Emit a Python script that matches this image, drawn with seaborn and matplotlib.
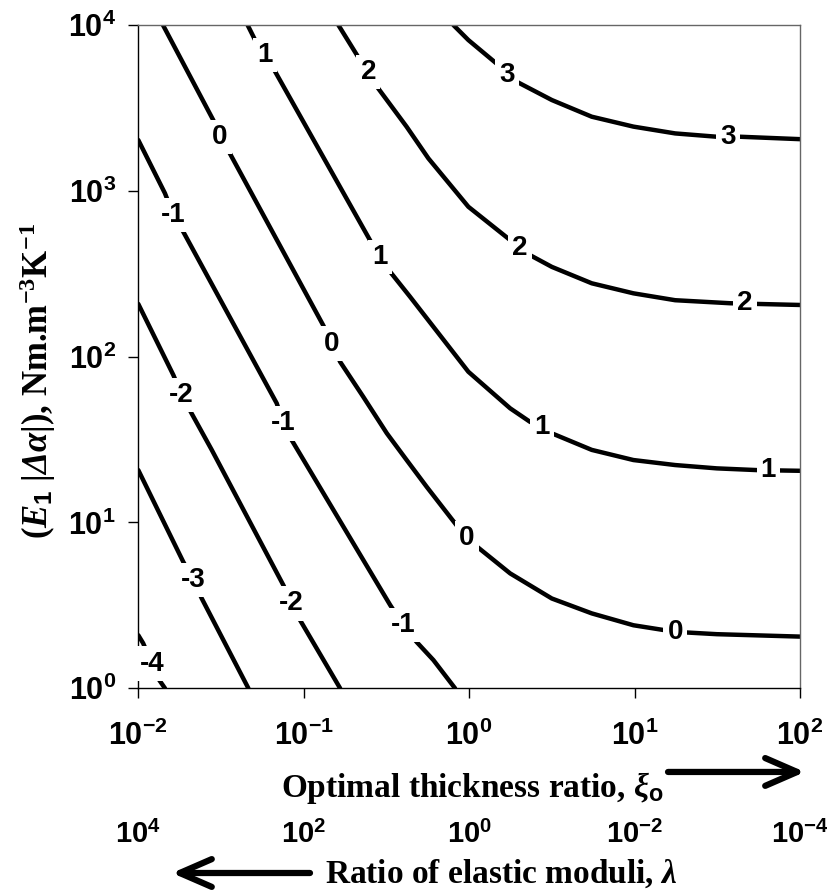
import numpy as np
import pandas as pd
import matplotlib
matplotlib.use("Agg")
import matplotlib.pyplot as plt
import seaborn as sns
from matplotlib.ticker import NullLocator

# ---------------- data ----------------
# contour level -4
lvl_m4_x = [0.0100, 0.0107, 0.0121, 0.0134, 0.0145]
lvl_m4_y = [2.09, 1.87, 1.41, 1.12, 1.00]
# contour level -3
lvl_m3_x = [0.0100, 0.0187, 0.0215, 0.0242, 0.0463]
lvl_m3_y = [20.7, 5.79, 4.50, 3.48, 1.00]
# contour level -2
lvl_m2_x = [0.0100, 0.0163, 0.0183, 0.0210, 0.0278, 0.0753, 0.0846, 0.0950, 0.166]
lvl_m2_y = [208, 77.4, 58.7, 45.5, 27.4, 4.19, 3.25, 2.58, 1.00]
# contour level -1
lvl_m1_x = [0.0100, 0.0145, 0.0163, 0.0187, 0.0687, 0.0753, 0.0846, 0.333, 0.400, 0.482, 0.608, 0.822]
lvl_m1_y = [2025, 966, 715, 567, 52.3, 39.6, 31.4, 3.18, 2.40, 1.90, 1.48, 1.00]
# contour level 0
lvl_0_x = [0.0141, 0.0284, 0.0312, 0.0358, 0.131, 0.148, 0.166, 0.229, 0.318, 0.419, 0.554, 0.967,
           1.77, 3.16, 5.51, 9.84, 17.6, 31.4, 100]
lvl_0_y = [10000, 2670, 2120, 1680, 155, 120, 93.1, 57.3, 34.5, 23.8, 16.4, 8.02,
           4.93, 3.48, 2.83, 2.40, 2.19, 2.12, 2.05]
# contour level 1
lvl_1_x = [0.0458, 0.0520, 0.0583, 0.0655, 0.258, 0.289, 0.333, 0.439, 0.989,
           1.77, 2.33, 2.75, 3.16, 5.51, 9.84, 17.6, 31.4, 54.8, 100]
lvl_1_y = [10000, 7760, 6590, 5480, 482, 400, 325, 230, 81.1,
           48.8, 40.5, 37.8, 34.5, 27.4, 23.8, 22.2, 21.2, 20.7, 20.5]
# contour level 2
lvl_2_x = [0.162, 0.219, 0.246, 0.282, 0.419, 0.567, 0.989, 1.77, 2.03, 2.33,
           3.16, 5.51, 9.84, 17.6, 37.8, 54.8, 100]
lvl_2_y = [10000, 6150, 5230, 4150, 2435, 1570, 802, 505, 450, 410,
           348, 277, 241, 219, 210, 208, 205]
# contour level 3
lvl_3_x = [0.803, 0.989, 1.50, 1.69, 1.94, 3.16, 5.51, 9.84, 17.6, 31.4, 43.4, 100]
lvl_3_y = [10000, 8120, 5740, 4990, 4550, 3530, 2800, 2440, 2220, 2120, 2120, 2050]

levels = [-4, -3, -2, -1, 0, 1, 2, 3]
curves_x = [lvl_m4_x, lvl_m3_x, lvl_m2_x, lvl_m1_x, lvl_0_x, lvl_1_x, lvl_2_x, lvl_3_x]
curves_y = [lvl_m4_y, lvl_m3_y, lvl_m2_y, lvl_m1_y, lvl_0_y, lvl_1_y, lvl_2_y, lvl_3_y]

# inline contour labels: level, x, y
label_level = [-4, -3, -2, -2, -1, -1, -1, 0, 0, 0, 0, 1, 1, 1, 1, 2, 2, 2, 3, 3]
label_x = [0.0121, 0.0215, 0.0183, 0.0846, 0.0163, 0.0753, 0.400, 0.0312, 0.148, 0.967, 17.6,
           0.0583, 0.289, 2.75, 64.4, 0.246, 2.03, 46.6, 1.69, 36.9]
label_y = [1.41, 4.50, 58.7, 3.25, 715, 39.6, 2.40, 2120, 120, 8.02, 2.19,
           6590, 400, 37.8, 20.7, 5230, 450, 210, 4990, 2120]

xticks = [1e-2, 1e-1, 1e0, 1e1, 1e2]
xtick_labels = [r"$\mathregular{10^{-2}}$", r"$\mathregular{10^{-1}}$", r"$\mathregular{10^{0}}$",
                r"$\mathregular{10^{1}}$", r"$\mathregular{10^{2}}$"]
yticks = [1e0, 1e1, 1e2, 1e3, 1e4]
ytick_labels = [r"$\mathregular{10^{0}}$", r"$\mathregular{10^{1}}$", r"$\mathregular{10^{2}}$",
                r"$\mathregular{10^{3}}$", r"$\mathregular{10^{4}}$"]
lam_ticks = [1e4, 1e2, 1e0, 1e-2, 1e-4]
lam_labels = [r"$\mathregular{10}^{\mathsf{4}}$", r"$\mathregular{10}^{\mathsf{2}}$",
              r"$\mathregular{10}^{\mathsf{0}}$", r"$\mathregular{10}^{\mathsf{-2}}$",
              r"$\mathregular{10}^{\mathsf{-4}}$"]

# ---------------- styling ----------------
sns.set_style("ticks")
plt.rcParams.update({
    "font.family": ["Liberation Sans", "DejaVu Sans"],
    "font.weight": "bold",
    "text.color": "black",
    "axes.labelcolor": "black",
    "xtick.color": "black",
    "ytick.color": "black",
    "xtick.labelcolor": "black",
    "ytick.labelcolor": "black",
    "mathtext.fontset": "custom",
    "mathtext.rm": "Liberation Serif:bold",
    "mathtext.it": "Liberation Serif:bold:italic",
    "mathtext.cal": "Liberation Serif:bold:italic",
    "mathtext.bf": "Liberation Serif:bold",
    "mathtext.sf": "Liberation Sans",
})

rows = []
for lev, xs, ys in zip(levels, curves_x, curves_y):
    for xv, yv in zip(xs, ys):
        rows.append((lev, xv, yv))
df = pd.DataFrame(rows, columns=["level", "x", "y"])

fig = plt.figure(figsize=(8.28, 8.91), dpi=100)
ax = fig.add_axes([0.1670, 0.2275, 0.7992, 0.7444])

sns.lineplot(data=df, x="x", y="y", units="level", estimator=None, sort=False,
             color="black", lw=3.2, ax=ax, legend=False)

ax.set_xscale("log")
ax.set_yscale("log")
ax.set_xlim(1e-2, 1e2)
ax.set_ylim(1e0, 1e4)

for lev, lx, ly in zip(label_level, label_x, label_y):
    ax.text(lx, ly, str(lev), ha="center", va="center", fontsize=20, fontweight="bold",
            family="Liberation Sans", color="black", zorder=5,
            bbox=dict(boxstyle="square,pad=0.15", fc="white", ec="none"))

ax.set_xticks(xticks, labels=xtick_labels)
ax.set_yticks(yticks, labels=ytick_labels)
ax.xaxis.set_minor_locator(NullLocator())
ax.yaxis.set_minor_locator(NullLocator())
ax.tick_params(axis="both", which="major", direction="out", length=7, width=1,
               labelsize=22, color="black", labelcolor="black")
ax.tick_params(axis="x", pad=16)
ax.tick_params(axis="y", pad=9)
for lab in ax.get_xticklabels() + ax.get_yticklabels():
    lab.set_fontweight("bold")

for side in ["left", "bottom"]:
    ax.spines[side].set_color("black")
    ax.spines[side].set_linewidth(1.0)
for side in ["top", "right"]:
    ax.spines[side].set_color("#666666")
    ax.spines[side].set_linewidth(1.0)
    ax.spines[side].set_visible(True)

ax.set_ylabel(r"($\mathit{E}_{\mathsf{1}}$ |$\mathcal{Δα}$|), Nm.m$^{\mathbf{-3}}$K$^{\mathbf{-1}}$",
              fontsize=25, family="Liberation Serif", fontweight="bold", color="black")
ax.yaxis.set_label_coords(-0.1516, 0.463)
ax.yaxis.label.set_va("center")

ax.set_xlabel(r"Optimal thickness ratio, $\mathit{\xi}_{\mathsf{o}}$",
              fontsize=24, family="Liberation Serif", fontweight="bold", color="black")
ax.xaxis.set_label_coords(0.505, -0.1639)
ax.xaxis.label.set_va("baseline")


def fwd(x):
    x = np.maximum(np.asarray(x, dtype=float), 1e-100)
    return np.power(x, -2.0)


def inv(lam):
    lam = np.maximum(np.asarray(lam, dtype=float), 1e-100)
    return np.power(lam, -0.5)


secax = ax.secondary_xaxis(-0.20, functions=(fwd, inv))
secax.set_xticks(lam_ticks, labels=lam_labels)
secax.xaxis.set_minor_locator(NullLocator())
secax.tick_params(axis="x", length=0, labelsize=21, pad=0, labelcolor="black")
secax.spines["bottom"].set_visible(False)
for lab in secax.get_xticklabels():
    lab.set_fontweight("bold")
secax.set_xlabel(r"Ratio of elastic moduli, $\mathit{\lambda}$",
                 fontsize=24, family="Liberation Serif", fontweight="bold", color="black")
secax.xaxis.set_label_coords(0.548, -0.2935, transform=ax.transAxes)
secax.xaxis.label.set_va("baseline")

arrow_kw = dict(arrowstyle="->,head_length=1.15,head_width=0.5", lw=4.5, color="black",
                shrinkA=0, shrinkB=0, mutation_scale=20)
ax.annotate("", xy=(0.9722, 0.1336), xytext=(0.8068, 0.1336),
            xycoords="figure fraction", textcoords="figure fraction", arrowprops=arrow_kw)
ax.annotate("", xy=(0.2077, 0.0202), xytext=(0.3744, 0.0202),
            xycoords="figure fraction", textcoords="figure fraction", arrowprops=arrow_kw)

fig.savefig("out.png", dpi=100)
